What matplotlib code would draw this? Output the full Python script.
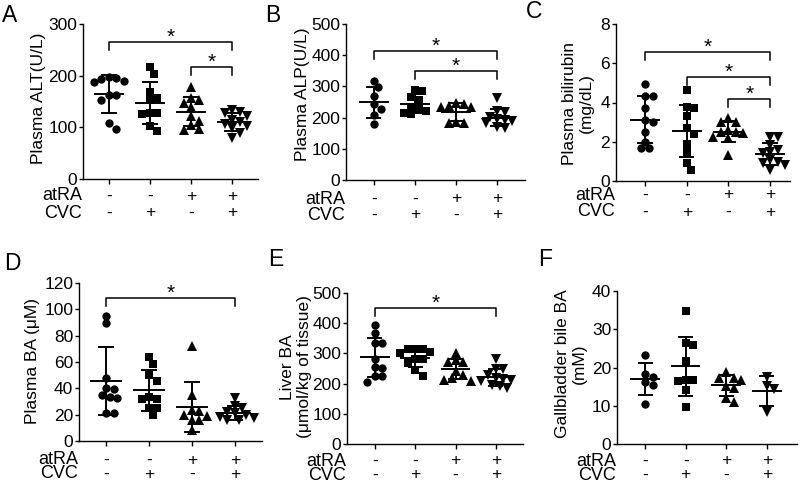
import numpy as np
import matplotlib
matplotlib.use('Agg')
import matplotlib.pyplot as plt

plt.rcParams['font.family'] = ['Liberation Sans', 'DejaVu Sans']

# ---------------- data ----------------
atra_signs = ['-', '-', '+', '+']
cvc_signs = ['-', '+', '-', '+']
row_labels = ['atRA', 'CVC']
markers = ['o', 's', '^', 'v']

alt_vals = [
    [197, 195, 193, 190, 188, 163, 162, 153, 108, 97],
    [216, 203, 168, 156, 153, 127, 127, 125, 103, 92],
    [178, 157, 152, 148, 140, 122, 112, 104, 96, 95],
    [133, 130, 127, 122, 115, 110, 106, 102, 98, 90, 80],
]
alp_vals = [
    [318, 297, 270, 243, 227, 207, 180],
    [287, 285, 265, 255, 235, 228, 222, 215, 210],
    [246, 244, 237, 235, 233, 187, 184, 182],
    [262, 222, 219, 203, 195, 192, 190, 182, 171, 166],
]
bili_vals = [
    [4.93, 4.35, 4.35, 3.71, 3.11, 2.99, 2.52, 2.01, 1.67, 1.67],
    [4.65, 3.75, 3.70, 3.30, 2.70, 2.40, 1.90, 1.50, 0.90, 0.56],
    [3.20, 3.03, 3.03, 2.60, 2.52, 2.49, 2.43, 2.26, 2.18, 1.33],
    [2.26, 2.26, 1.84, 1.58, 1.46, 1.41, 1.07, 0.98, 0.90, 0.82, 0.56],
]
pba_vals = [
    [95.1, 89.5, 47.6, 40.0, 39.2, 34.9, 33.6, 32.8, 20.9, 20.9],
    [64.0, 58.5, 50.1, 45.5, 33.6, 31.6, 31.6, 24.7, 24.7, 19.6],
    [72.2, 34.9, 23.4, 23.0, 19.6, 18.8, 15.8, 15.8, 8.7],
    [32.3, 26.5, 24.7, 22.1, 20.9, 19.6, 18.3, 17.1, 16.3, 15.8],
]
lba_vals = [
    [393, 366, 333, 333, 283, 255, 253, 225, 225, 205],
    [316, 316, 316, 305, 300, 283, 283, 267, 245, 226],
    [302, 277, 272, 272, 241, 228, 217, 211, 209],
    [280, 247, 247, 228, 219, 214, 211, 209, 195, 192, 187],
]
gba_vals = [
    [23.3, 18.3, 17.5, 16.3, 15.5, 10.5],
    [34.9, 26.5, 25.9, 21.6, 16.8, 16.8, 16.6, 14.0, 9.8],
    [18.7, 17.2, 17.2, 16.8, 15.2, 14.6, 12.0, 10.9],
    [17.6, 15.2, 14.3, 8.3],
]

ylabels = ['Plasma ALT(U/L)', 'Plasma ALP(U/L)', 'Plasma bilirubin\n(mg/dL)',
           'Plasma BA (\u03bcM)', 'Liver BA\n(\u03bcmol/kg of tissue)',
           'Gallbladder bile BA\n(mM)']
panel_letters = ['A', 'B', 'C', 'D', 'E', 'F']
yticks_list = [[0, 100, 200, 300], [0, 100, 200, 300, 400, 500], [0, 2, 4, 6, 8],
               [0, 20, 40, 60, 80, 100, 120], [0, 100, 200, 300, 400, 500],
               [0, 10, 20, 30, 40]]
brackets_list = [
    [(0, 3, 266), (2, 3, 217)],
    [(0, 3, 415), (1, 3, 350)],
    [(0, 3, 6.55), (1, 3, 5.29), (2, 3, 4.17)],
    [(0, 3, 108.6)],
    [(0, 3, 450)],
    [],
]
all_vals = [alt_vals, alp_vals, bili_vals, pba_vals, lba_vals, gba_vals]

# ---------------- layout (pixels) ----------------
W, H = 800, 484
boxes = [(83, 24, 258, 179), (346, 24, 525, 180), (616, 24, 790, 181),
         (79, 283, 262, 441), (347, 293, 523, 444), (617, 291, 797, 444)]
xlims = [(-0.634, 3.634), (-0.68, 3.68), (-0.7, 3.48),
         (-0.63, 3.63), (-0.69, 3.67), (-0.69, 3.74)]
ylab_px = [(39, 98.5), (302, 94), (578, 103.5), (32, 361.5), (296, 367), (571, 363.5)]
row_off = [(17, 34), (19, 35), (14, 31), (19, 33), (17, 31), (17, 31)]
letter_px = [(10, 15), (273, 15), (534, 12), (12, 263), (276, 260), (545, 260)]

fig = plt.figure(figsize=(W / 100, H / 100), dpi=100)


def swarm_x(ax, center, vals, d=7.0):
    vals = np.asarray(vals, float)
    disp = ax.transData.transform(np.column_stack([np.full(len(vals), center), vals]))
    ys = disp[:, 1]
    xc = disp[0, 0]
    order = np.argsort(-vals, kind='stable')
    placed = []
    xs = np.zeros(len(vals))
    cands = [0.0]
    for m in range(1, 12):
        cands += [m * d * 0.5, -m * d * 0.5]
    for i in order:
        chosen = cands[-1]
        for c in cands:
            if all((c - px) ** 2 + (ys[i] - py) ** 2 >= (d * 0.98) ** 2 for px, py in placed):
                chosen = c
                break
        placed.append((chosen, ys[i]))
        xs[i] = chosen
    inv = ax.transData.inverted()
    return inv.transform(np.column_stack([xc + xs, ys]))[:, 0]


for p in range(6):
    l, t, r, b = boxes[p]
    ax = fig.add_axes([l / W, (H - b) / H, (r - l) / W, (b - t) / H])
    yt = yticks_list[p]
    ax.set_xlim(*xlims[p])
    ax.set_ylim(0, yt[-1])
    for s in ['top', 'right']:
        ax.spines[s].set_visible(False)
    for s in ['left', 'bottom']:
        ax.spines[s].set_linewidth(1.0)
    ax.set_yticks(yt)
    ax.set_xticks(range(4))
    ax.set_xticklabels([])
    ax.tick_params(axis='y', direction='out', length=3.2, width=1.0, pad=1, labelsize=12.5)
    ax.tick_params(axis='x', direction='out', length=3.5, width=1.0)

    pxh = (b - t)
    ypp = yt[-1] / pxh  # data units per pixel

    vals = all_vals[p]
    for g in range(4):
        v = np.asarray(vals[g], float)
        xs = swarm_x(ax, g, v, d=7.5)
        ms = {'o': 6.0, 's': 5.6, '^': 6.6, 'v': 6.6}[markers[g]]
        ax.plot(xs, v, linestyle='none', marker=markers[g], ms=ms, color='black',
                mec='black', mew=0, clip_on=False, zorder=3)
        m = v.mean()
        sd = v.std(ddof=1)
        ax.plot([g - 0.34, g + 0.34], [m, m], color='black', lw=1.4, zorder=4)
        ax.plot([g, g], [m - sd, m + sd], color='black', lw=1.4, zorder=4)
        for yy in (m - sd, m + sd):
            ax.plot([g - 0.16, g + 0.16], [yy, yy], color='black', lw=1.4, zorder=4)

    # significance brackets
    for (i, j, yb) in brackets_list[p]:
        tick = 8 * ypp
        ax.plot([i, i, j, j], [yb - tick, yb, yb, yb - tick], color='black', lw=1.1,
                clip_on=False, zorder=4)
        ax.annotate('*', xy=((i + j) / 2, yb), xycoords='data', xytext=(0, -3.5),
                    textcoords='offset points', ha='center', va='bottom', fontsize=15)

    # +/- rows
    for row, signs in enumerate([atra_signs, cvc_signs]):
        off = row_off[p][row] * 0.72
        for g, sgn in enumerate(signs):
            ax.annotate(sgn, xy=(g, 0), xycoords=('data', 'axes fraction'),
                        xytext=(0, -off), textcoords='offset points',
                        ha='center', va='center', fontsize=12.5)
        ax.annotate(row_labels[row], xy=(0, 0), xycoords='axes fraction',
                    xytext=(-0.5, -off), textcoords='offset points',
                    ha='right', va='center', fontsize=13)

    # y label
    lx, ly = ylab_px[p]
    ax.text((lx - l) / (r - l), (b - ly) / (b - t), ylabels[p], transform=ax.transAxes,
            rotation=90, ha='center', va='center', multialignment='center', fontsize=12.5,
            linespacing=1.1)

    # panel letter
    fx, fy = letter_px[p]
    fig.text(fx / W, 1 - fy / H, panel_letters[p], ha='center', va='center', fontsize=16.5)

fig.savefig('out.png', dpi=100)
